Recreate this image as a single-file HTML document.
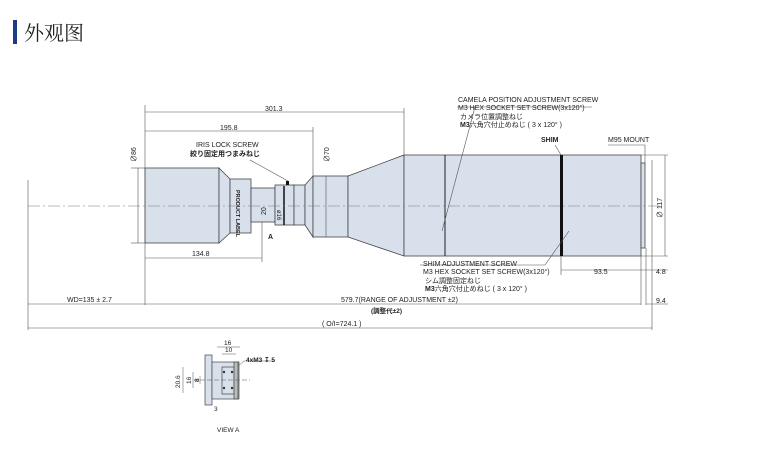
<!DOCTYPE html>
<html><head><meta charset="utf-8"><style>
html,body{margin:0;padding:0;background:#fff;}
svg{display:block;}
text{font-family:"Liberation Sans","Noto Sans CJK JP",sans-serif;fill:#222;}
</style></head><body>
<svg width="778" height="452" viewBox="0 0 778 452" xmlns="http://www.w3.org/2000/svg">
<rect x="13" y="20" width="4" height="24" fill="#1f3a8a"/>
<text x="24" y="40" font-size="20" style="font-family:'Noto Serif CJK SC','Noto Sans CJK SC',serif" fill="#333">外观图</text>

<g stroke="#444" stroke-width="0.8" fill="#d8e0ec">
<rect x="145" y="168" width="74" height="75"/>
<polygon points="219,168 230,179 230,233 219,243"/>
<rect x="230" y="179" width="21" height="54"/>
<rect x="251" y="188" width="24" height="34"/>
<rect x="275" y="185" width="19" height="40"/>
<rect x="294" y="185" width="11" height="40"/>
<polygon points="305,185 313,176 313,237 305,225"/>
<rect x="313" y="176" width="35" height="61"/>
<polygon points="348,176 404,155 404,256 348,237"/>
<rect x="404" y="155" width="237" height="101"/>
<rect x="641" y="163" width="4" height="85"/>
</g>
<rect x="286" y="181" width="3" height="4" fill="#111"/>
<line x1="284" y1="186" x2="284" y2="225" stroke="#111" stroke-width="1.5"/>
<line x1="445" y1="155" x2="445" y2="256" stroke="#222" stroke-width="1"/>
<rect x="560" y="155" width="3" height="101" fill="#111"/>
<text transform="translate(236,190) rotate(90)" font-size="5.5" font-weight="bold">PRODUCT LABEL</text>
<text transform="translate(266,215) rotate(-90)" font-size="7">20</text>
<text transform="translate(277,210) rotate(90)" font-size="6">ø16</text>

<!-- axis -->
<line x1="28" y1="206" x2="660" y2="206" stroke="#777" stroke-width="0.5" stroke-dasharray="12,3,2,3"/>

<g stroke="#555" stroke-width="0.6" fill="none">
<line x1="145" y1="105" x2="145" y2="305"/>
<line x1="404" y1="108" x2="404" y2="155"/>
<line x1="313" y1="127" x2="313" y2="176"/>
<line x1="145" y1="112" x2="404" y2="112"/>
<line x1="145" y1="131" x2="313" y2="131"/>
<line x1="145" y1="258" x2="262" y2="258"/>
<line x1="262" y1="222" x2="262" y2="262"/>
<line x1="138" y1="168" x2="138" y2="243"/>
<line x1="131" y1="168" x2="145" y2="168"/>
<line x1="131" y1="243" x2="145" y2="243"/>
<line x1="326" y1="176" x2="326" y2="237"/>
<line x1="665" y1="155" x2="665" y2="256"/>
<line x1="641" y1="155" x2="668" y2="155"/>
<line x1="641" y1="256" x2="668" y2="256"/>
<line x1="561" y1="256" x2="561" y2="275"/>
<line x1="641" y1="256" x2="641" y2="305"/>
<line x1="646" y1="248" x2="646" y2="305"/>
<line x1="652" y1="160" x2="652" y2="330"/>
<line x1="561" y1="270" x2="641" y2="270"/>
<line x1="641" y1="270" x2="668" y2="270"/>
<line x1="28" y1="180" x2="28" y2="330"/>
<line x1="28" y1="304" x2="641" y2="304"/>
<line x1="646" y1="304" x2="668" y2="304"/>
<line x1="28" y1="328" x2="652" y2="328"/>
<!-- leaders -->
<line x1="250" y1="160" x2="288" y2="181"/>
<line x1="457" y1="107" x2="592" y2="107"/>
<line x1="475" y1="107" x2="442" y2="231"/>
<line x1="420" y1="265" x2="545" y2="265"/>
<line x1="545" y1="265" x2="569" y2="231"/>
<line x1="555" y1="145" x2="561" y2="155"/>
<line x1="608" y1="145" x2="645" y2="145"/>
<line x1="645" y1="145" x2="645" y2="163"/>
</g>

<g font-size="7">
<text x="265" y="111">301.3</text>
<text x="220" y="130">195.8</text>
<text x="192" y="256">134.8</text>
<text x="196" y="147">IRIS LOCK SCREW</text>
<text x="190" y="156" font-weight="bold">絞り固定用つまみねじ</text>
<text transform="translate(136,162) rotate(-90)" font-size="7">∅86</text>
<text transform="translate(329,162) rotate(-90)" font-size="7">∅70</text>
<text transform="translate(662,218) rotate(-90)" font-size="7">∅ 117</text>
<text x="268" y="239" font-weight="bold">A</text>
<text x="458" y="102">CAMELA POSITION ADJUSTMENT SCREW</text>
<text x="458" y="110">M3 HEX SOCKET SET SCREW(3x120°)</text>
<text x="460" y="119">カメラ位置調整ねじ</text>
<text x="460" y="127"><tspan font-weight="bold">M3</tspan>六角穴付止めねじ ( 3 x 120° )</text>
<text x="541" y="142" font-weight="bold">SHIM</text>
<text x="608" y="142">M95 MOUNT</text>
<text x="423" y="266">SHIM ADJUSTMENT SCREW</text>
<text x="423" y="274">M3 HEX SOCKET SET SCREW(3x120°)</text>
<text x="425" y="283">シム調整固定ねじ</text>
<text x="425" y="291"><tspan font-weight="bold">M3</tspan>六角穴付止めねじ ( 3 x 120° )</text>
<text x="594" y="274">93.5</text>
<text x="656" y="274">4.8</text>
<text x="656" y="303">9.4</text>
<text x="67" y="302">WD=135 ± 2.7</text>
<text x="341" y="302">579.7(RANGE OF ADJUSTMENT ±2)</text>
<text x="371" y="313" font-weight="bold" font-size="6.5">(調整代±2)</text>
<text x="322" y="326">( O/I=724.1 )</text>
</g>

<!-- view A -->
<g stroke="#444" stroke-width="0.7" fill="#d8e0ec">
<rect x="205" y="355" width="7" height="50"/>
<rect x="212" y="362" width="27" height="37"/>
<rect x="222" y="367" width="12" height="27" fill="none"/>
<rect x="234" y="362" width="4" height="37" fill="#bbb"/>
</g>
<g fill="#333"><circle cx="224" cy="372" r="1.2"/><circle cx="232" cy="372" r="1.2"/><circle cx="224" cy="388" r="1.2"/><circle cx="232" cy="388" r="1.2"/></g>
<g stroke="#555" stroke-width="0.5">
<line x1="200" y1="380" x2="250" y2="380" stroke-dasharray="5,2"/>
<line x1="217" y1="347" x2="240" y2="347"/>
<line x1="222" y1="354" x2="236" y2="354"/>
<line x1="183" y1="367" x2="183" y2="393"/>
<line x1="193" y1="372" x2="193" y2="388"/>
<line x1="200" y1="376" x2="200" y2="384"/>
<line x1="238" y1="366" x2="244" y2="361"/>
<line x1="244" y1="361" x2="275" y2="361"/>
</g>
<g font-size="6.5">
<text x="224" y="345">16</text>
<text x="225" y="352">10</text>
<text x="246" y="362" font-weight="bold">4xM3 ↧ 5</text>
<text transform="translate(180,388) rotate(-90)">20.6</text>
<text transform="translate(191,384) rotate(-90)">16</text>
<text transform="translate(199,382) rotate(-90)" font-weight="bold">8</text>
<text x="214" y="411">3</text>
<text x="217" y="432">VIEW A</text>
</g>
</svg>
</body></html>
